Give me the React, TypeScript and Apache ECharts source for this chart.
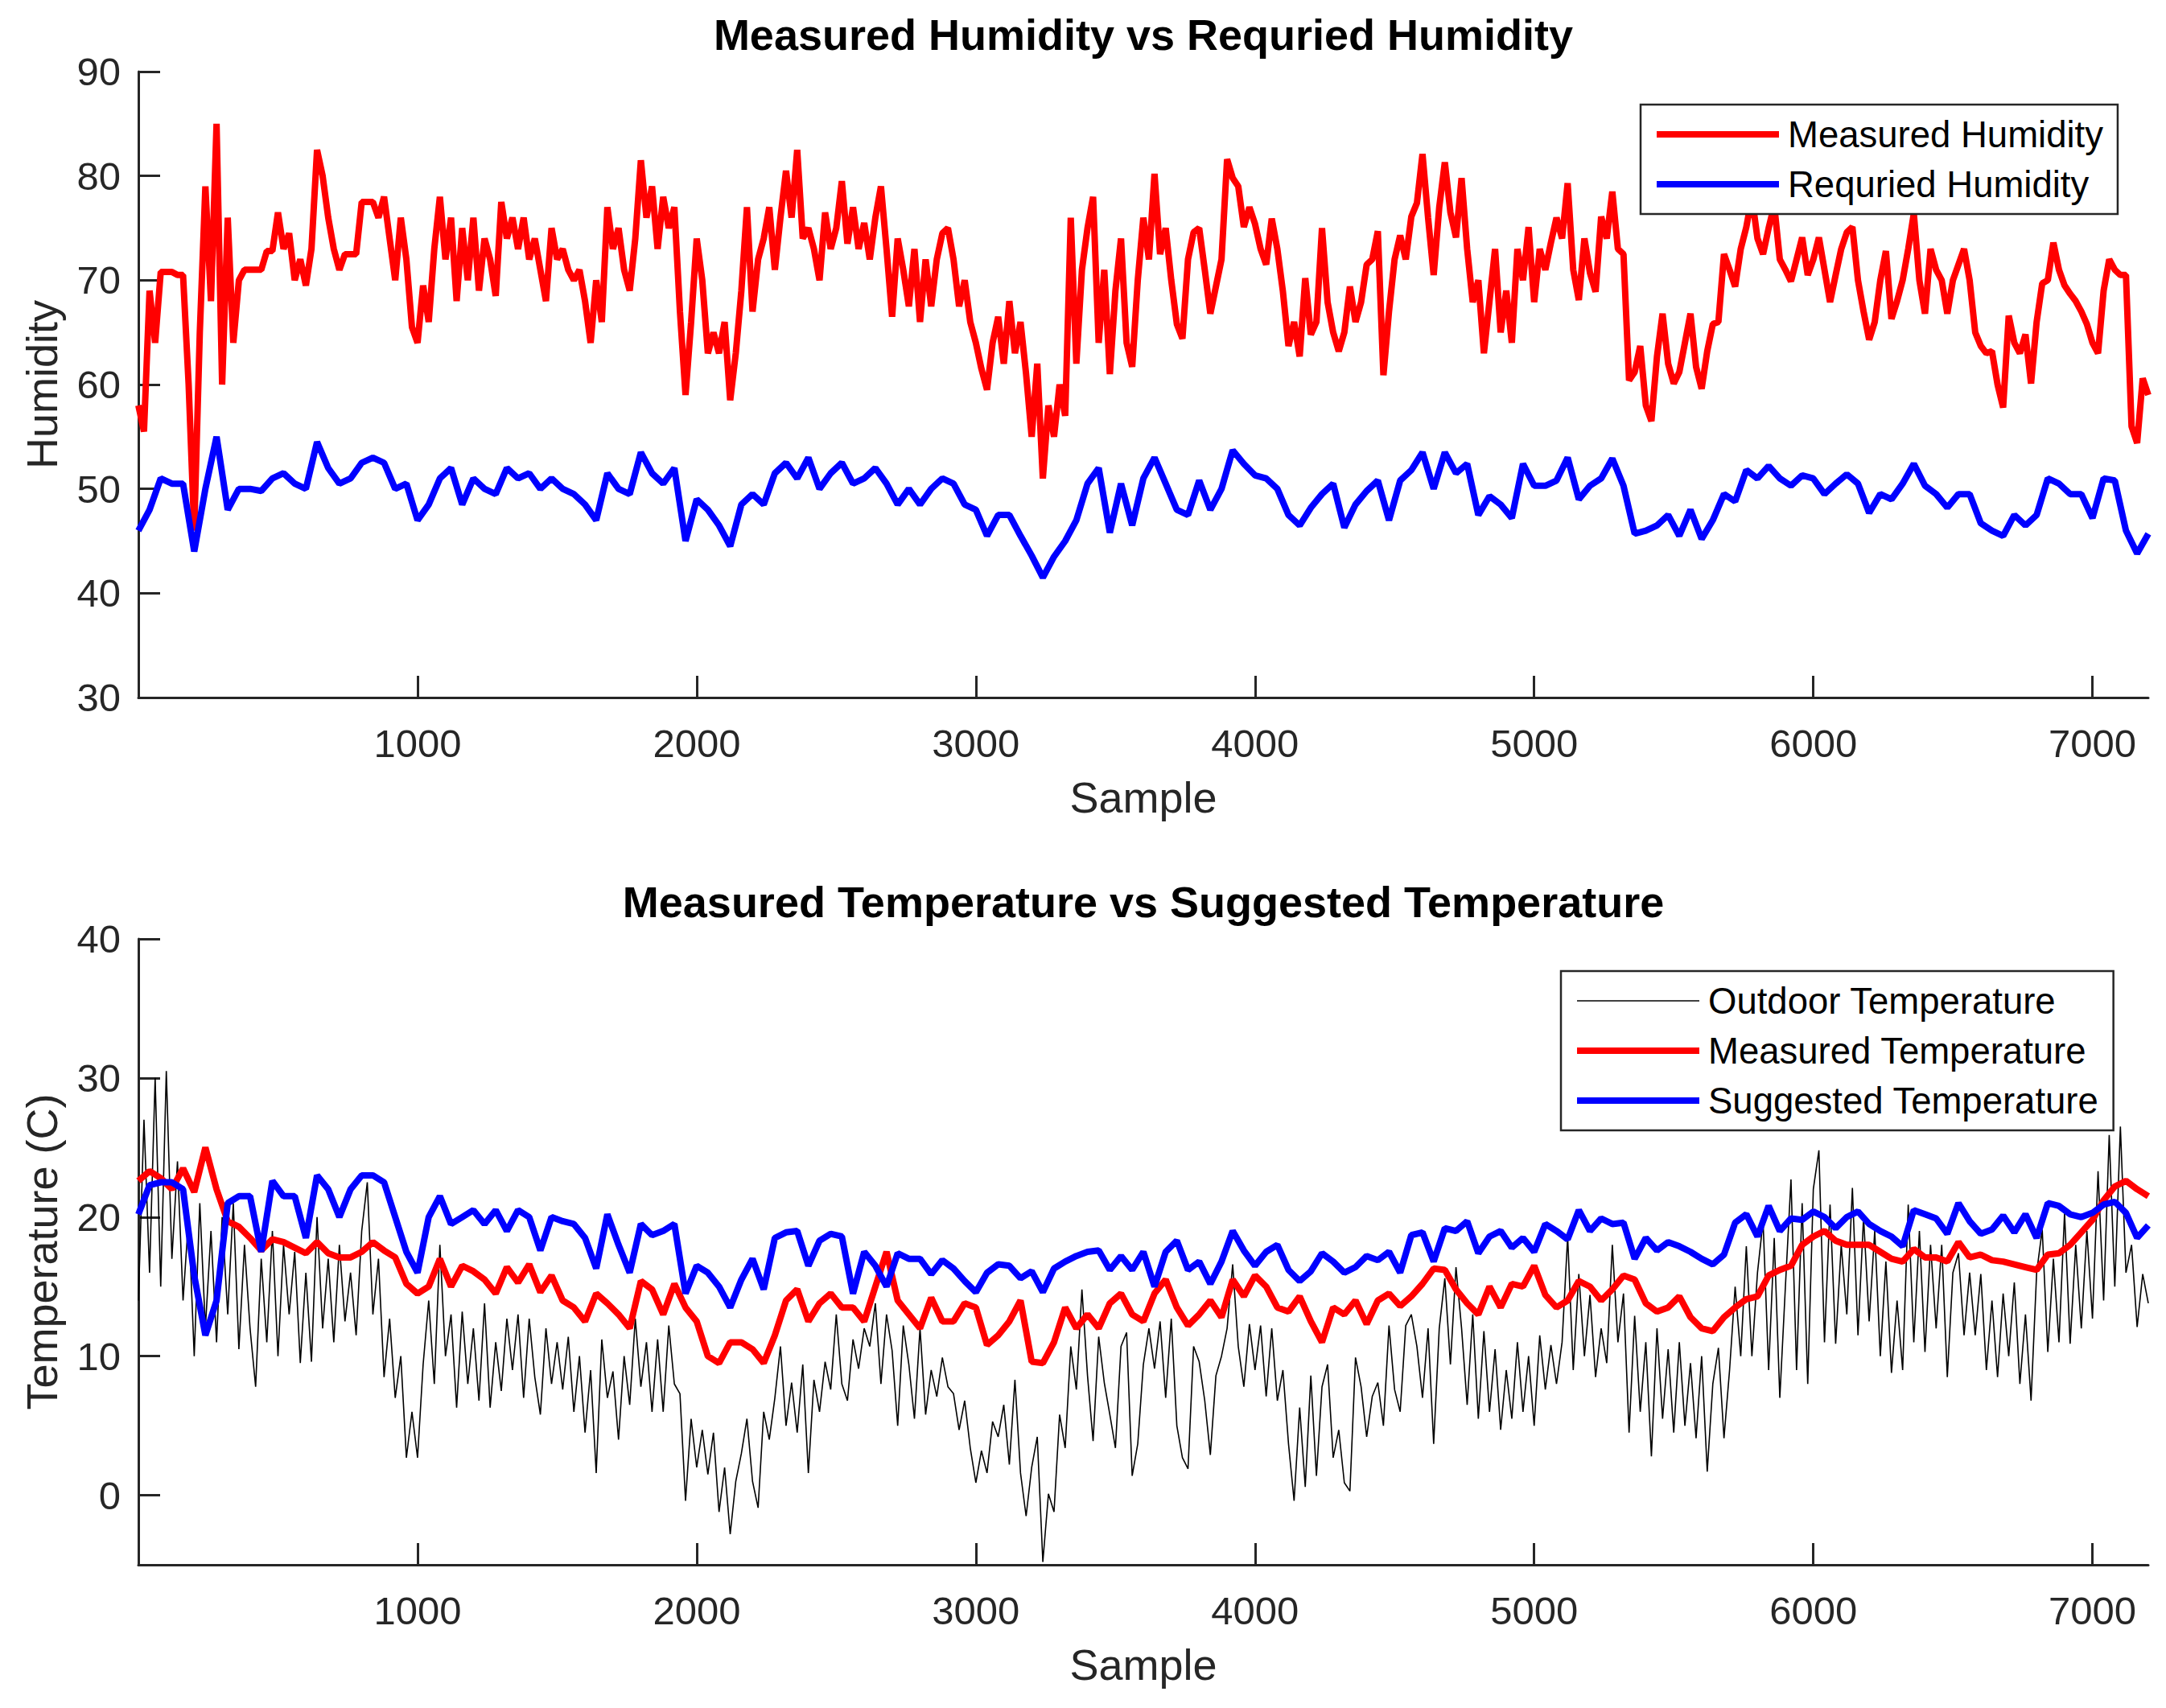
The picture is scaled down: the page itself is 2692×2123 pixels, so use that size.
import React, { useEffect, useRef } from 'react';
import * as echarts from 'echarts';

// sample spacing of the hand-read values below
const MEASURED_HUMIDITY_STEP = 20;
const REQUIRED_HUMIDITY_STEP = 40;
const TEMP_STEP = 40;
const OUTDOOR_STEP = 20;

const measuredHumidity = [
  58, 55.5, 69, 64, 70.8, 70.8, 70.8, 70.5, 70.5, 60, 46, 65, 79, 68, 85, 60, 76, 64, 70, 71,
  71, 71, 71, 72.8, 72.8, 76.5, 73, 74.5, 70, 72, 69.5, 73, 82.5, 80, 76, 73, 71, 72.5, 72.5, 72.5,
  77.5, 77.5, 77.5, 76, 78, 74, 70, 76, 72, 65.5, 64, 69.5, 66, 73, 78, 72, 76, 68, 75, 70,
  76, 69, 74, 72, 68.5, 77.5, 74, 76, 73, 76, 72, 74, 71, 68, 75, 72, 73, 71, 70, 71,
  68, 64, 70, 66, 77, 73, 75, 71, 69, 74, 81.5, 76, 79, 73, 78, 75, 77, 67, 59, 66,
  74, 70, 63, 65, 63, 66, 58.5, 63, 69, 77, 67, 72, 74, 77, 71, 76, 80.5, 76, 82.5, 74,
  75, 73, 70, 76.5, 73, 75, 79.5, 73.5, 77, 73, 75.5, 72, 76, 79, 73, 66.5, 74, 71, 67.5, 73,
  66, 72, 67.5, 72, 74.5, 75, 72, 67.5, 70, 66, 64, 61.5, 59.5, 64, 66.5, 62, 68, 63, 66, 61,
  55, 62, 51, 58, 55, 60, 57, 76, 62, 71, 75, 78, 64, 71, 61, 69, 74, 64, 61.7, 70,
  76, 72, 80.2, 72.5, 75, 70, 65.8, 64.4, 72, 74.6, 75, 71, 66.8, 69.4, 72, 81.6, 79.8, 79, 75.1, 77,
  75.4, 73, 71.5, 75.9, 73, 68.9, 63.7, 66, 62.7, 70.2, 64.8, 66, 75, 67.9, 65, 63.2, 65, 69.4, 66, 67.9,
  71.5, 72, 74.7, 60.9, 67, 72, 74.3, 72, 76.1, 77.4, 82.1, 76, 70.5, 77, 81.3, 76.5, 74.1, 79.8, 73, 67.9,
  70, 63, 68, 73, 65, 69, 64, 73, 70, 75.1, 67.9, 73, 71, 73.6, 76, 74, 79.3, 71, 68.1, 74,
  70.7, 68.9, 76.1, 74, 78.5, 73, 72.5, 60.4, 61.2, 63.7, 58, 56.5, 62.7, 66.8, 62, 60.1, 61.2, 64, 66.8, 61.7,
  59.6, 63.2, 65.8, 66, 72.5, 71, 69.4, 73, 75.1, 78, 74, 72.5, 75, 77.2, 72, 71, 69.9, 72, 74.1, 70.5,
  72, 74.1, 71, 67.9, 70.5, 73, 74.6, 75.1, 70, 67, 64.3, 66, 70, 72.8, 66.3, 68, 70, 73, 76.4, 70,
  66.8, 73, 71, 70, 66.8, 70, 71.5, 73, 70, 65, 63.7, 63, 63.2, 60, 57.8, 66.6, 64, 63, 64.8, 60.1,
  66, 69.7, 70, 73.6, 71, 69.5, 68.7, 68, 67, 65.8, 64, 63, 69, 72, 71, 70.5, 70.5, 56, 54.4, 60.6,
  59,
];

const requiredHumidity = [
  46, 48, 51, 50.5, 50.5, 44, 50, 55, 48, 50,
  50, 49.8, 51, 51.5, 50.5, 50, 54.5, 52, 50.5, 51,
  52.5, 53, 52.5, 50, 50.5, 47, 48.5, 51, 52, 48.5,
  51, 50, 49.5, 52, 51, 51.5, 50, 51, 50, 49.5,
  48.5, 47, 51.5, 50, 49.5, 53.5, 51.5, 50.5, 52, 45,
  49, 48, 46.5, 44.5, 48.5, 49.5, 48.5, 51.5, 52.5, 51,
  53, 50, 51.5, 52.5, 50.5, 51, 52, 50.5, 48.5, 50,
  48.5, 50, 51, 50.5, 48.5, 48, 45.5, 47.5, 47.5, 45.5,
  43.6, 41.5, 43.5, 45, 47, 50.5, 52, 45.8, 50.5, 46.5,
  51, 53, 50.5, 48, 47.5, 50.8, 48, 50, 53.7, 52.4,
  51.3, 51, 50, 47.5, 46.5, 48.2, 49.5, 50.5, 46.3, 48.5,
  49.8, 50.8, 47, 50.8, 51.8, 53.5, 50, 53.5, 51.5, 52.4,
  47.5, 49.3, 48.5, 47.2, 52.4, 50.3, 50.3, 50.8, 53, 49,
  50.3, 51, 52.9, 50.3, 45.7, 46, 46.5, 47.5, 45.5, 48,
  45.2, 47, 49.5, 48.8, 51.8, 51, 52.2, 51, 50.3, 51.3,
  51, 49.5, 50.5, 51.4, 50.5, 47.7, 49.5, 49, 50.5, 52.4,
  50.3, 49.5, 48.2, 49.5, 49.5, 46.7, 46, 45.5, 47.5, 46.5,
  47.5, 51, 50.5, 49.5, 49.5, 47.2, 51, 50.8, 46, 43.8,
  45.7,
];

const measuredTemperature = [
  22.6, 23.3, 22.8, 22, 23.5, 21.8, 25, 22, 19.7, 19.3,
  18.5, 17.6, 18.4, 18.2, 17.8, 17.4, 18.2, 17.4, 17.1, 17.1,
  17.5, 18.2, 17.6, 17.1, 15.2, 14.5, 15, 17, 15, 16.5,
  16.1, 15.5, 14.5, 16.4, 15.3, 16.6, 14.6, 15.8, 14, 13.5,
  12.5, 14.5, 13.8, 13, 12, 15.4, 14.8, 13, 15.2, 13.5,
  12.5, 10, 9.5, 11, 11, 10.5, 9.5, 11.5, 14, 14.8,
  12.5, 13.8, 14.5, 13.5, 13.5, 12.5, 15, 17.5, 14, 13,
  12, 14.2, 12.5, 12.5, 13.8, 13.5, 10.8, 11.5, 12.5, 14,
  9.6, 9.5, 11, 13.5, 12, 13, 12, 13.8, 14.5, 13,
  12.5, 14.5, 15.5, 13.5, 12.2, 13, 14, 12.8, 15.5, 14.3,
  15.8, 15, 13.5, 13.2, 14.3, 12.5, 11, 13.5, 13, 14,
  12.3, 14, 14.5, 13.6, 14.3, 15.2, 16.3, 16.2, 14.8, 13.8,
  13, 15, 13.5, 15.2, 15, 16.5, 14.4, 13.5, 14, 15.4,
  15, 14, 14.8, 15.8, 15.5, 13.8, 13.2, 13.5, 14.3, 12.8,
  12, 11.8, 12.8, 13.5, 14.1, 14.3, 15.8, 16.2, 16.5, 18,
  18.6, 19, 18.3, 18, 18, 18, 17.5, 17, 16.8, 17.7,
  17.1, 17.1, 16.8, 18.2, 17.1, 17.3, 16.9, 16.8, 16.6, 16.4,
  16.2, 17.3, 17.4, 18, 18.9, 19.8, 21.2, 22.2, 22.6, 22,
  21.5,
];

const suggestedTemperature = [
  20.2, 22.3, 22.5, 22.5, 22, 15.8, 11.5, 14, 21, 21.5,
  21.5, 17.5, 22.6, 21.5, 21.5, 18.5, 23, 22, 20, 22,
  23, 23, 22.5, 20, 17.5, 16, 20, 21.5, 19.5, 20,
  20.5, 19.5, 20.5, 19, 20.5, 20, 17.6, 20, 19.7, 19.5,
  18.5, 16.3, 20.2, 18, 16, 19.5, 18.7, 19, 19.5, 14.5,
  16.5, 16, 15, 13.5, 15.5, 17, 14.8, 18.5, 18.9, 19,
  16.5, 18.3, 18.8, 18.6, 14.5, 17.5, 16.5, 15, 17.4, 17,
  17, 15.9, 16.9, 16.3, 15.4, 14.6, 16, 16.6, 16.5, 15.6,
  16.1, 14.6, 16.3, 16.8, 17.2, 17.5, 17.6, 16.2, 17.2, 16.2,
  17.5, 15, 17.5, 18.3, 16.2, 16.8, 15.2, 16.8, 19, 17.6,
  16.5, 17.5, 18, 16.2, 15.4, 16.1, 17.4, 16.8, 16, 16.4,
  17.2, 16.9, 17.5, 16, 18.7, 18.9, 16.8, 19.2, 19, 19.7,
  17.4, 18.6, 19, 17.8, 18.5, 17.5, 19.5, 19, 18.4, 20.5,
  19, 19.9, 19.5, 19.6, 17, 18.5, 17.6, 18.2, 17.9, 17.5,
  17, 16.6, 17.3, 19.6, 20.2, 18.6, 20.8, 19, 19.9, 19.8,
  20.4, 20, 19.2, 20, 20.4, 19.5, 19, 18.6, 17.9, 20.5,
  20.2, 19.9, 18.8, 21, 19.7, 18.8, 19.1, 20.1, 18.9, 20.2,
  18.5, 21, 20.8, 20.2, 20, 20.3, 20.9, 21.1, 20.3, 18.5,
  19.4,
];

const outdoorTemperature = [
  14, 27, 16, 30, 15, 30.5, 17, 24, 14, 20,
  10, 21, 12, 19, 11, 20, 13, 21, 10.5, 18,
  12, 7.8, 17, 11, 19, 10, 18, 13, 17.5, 9.5,
  16, 9.6, 20, 12, 17, 11, 18, 12.5, 16, 11.5,
  19, 22.5, 13, 17, 8.5, 12.7, 7, 10, 2.7, 6,
  2.7, 9.4, 14, 8, 18, 10, 13, 6.3, 13.2, 8,
  12, 6.8, 13.8, 6.3, 11, 7.5, 12.7, 9, 13, 7,
  12.7, 8.5, 5.8, 12, 8, 11, 7.6, 11.4, 6, 10,
  4.5, 9, 1.6, 11.2, 7, 8.9, 4, 10, 6.5, 12.7,
  7.8, 11, 6, 11.2, 6, 12.2, 8, 7.3, -0.4, 5.5,
  2, 4.7, 1.5, 4.5, -1.2, 2, -2.8, 1, 3, 5.5,
  1, -0.9, 6, 4, 7, 10.7, 5, 8.1, 4.5, 9.4,
  1.6, 8.3, 6, 9.6, 7.6, 13, 8, 6.8, 11.2, 9.1,
  12, 10.7, 13.8, 8, 13, 10.4, 5, 12.2, 9.4, 5.5,
  12, 5.8, 9, 7.1, 9.9, 7.8, 7.3, 4.7, 6.8, 3.4,
  0.9, 3.2, 1.6, 5.3, 4.2, 6.5, 2.2, 8.3, 1.6, -1.5,
  2, 4.2, -4.8, 0.1, -1.2, 5.8, 3.4, 10.7, 7.6, 14.8,
  8.6, 3.9, 11.4, 8.1, 5.8, 3.4, 10.7, 11.7, 1.4, 3.7,
  9.4, 12, 9.1, 12.5, 7, 12.7, 5, 2.7, 1.9, 10.7,
  9.6, 6.8, 2.9, 8.6, 10, 12, 16.6, 10.7, 7.8, 12.3,
  9, 12.2, 7.1, 12, 6.8, 9, 3.7, -0.4, 6.3, 0.6,
  8.6, 1.4, 7.8, 9.4, 2.7, 4.7, 0.9, 0.3, 9.9, 7.8,
  4.2, 7.1, 8.1, 5, 12.2, 7.6, 6, 12.2, 13, 10.7,
  7, 12, 3.7, 12, 15.6, 9.4, 16.4, 12, 6.5, 13,
  5.5, 11.8, 6, 10.5, 4.7, 9, 5.5, 11, 6, 10,
  5, 11.5, 7.6, 10.8, 8, 11, 18.6, 9, 15.9, 10,
  14.4, 8.5, 12, 9.5, 18, 11, 14.5, 4.5, 12.9, 6,
  11, 2.8, 12, 5.5, 10.5, 4.5, 11, 5, 9.5, 4.1,
  10, 1.7, 8, 10.6, 4.1, 9, 15, 10, 17.9, 10,
  16, 19.7, 9, 18.5, 7, 15, 22.7, 9, 21, 8,
  22, 24.8, 11, 20.9, 10.9, 18, 13, 22.1, 11.5, 20,
  12.5, 19, 10, 16.8, 8.8, 14, 9, 20.9, 11, 19,
  10.3, 18, 12, 18, 8.5, 16, 17.4, 11.5, 16, 11.5,
  15.9, 9, 14, 8.5, 14.5, 10, 15.3, 8, 13, 6.8,
  16, 19.1, 10.3, 17, 11, 20.3, 10.9, 18, 12, 19,
  12.7, 23.3, 14, 25.9, 15, 26.5, 16, 18, 12.1, 15.9,
  13.8,
];

const sampleTicks = [1000, 2000, 3000, 4000, 5000, 6000, 7000];
const temperatureTicks = [0, 10, 20, 30, 40];

const FONT = '"Liberation Sans", Arial, Helvetica, sans-serif';
const AXIS_COLOR = '#262626';

function toPoints(values: number[], step: number) {
  return values.map((v, i) => [i * step, v]);
}

function sampleAxis(gridIndex: number) {
  return {
    type: 'value',
    gridIndex,
    min: 0,
    max: 7200,
    interval: 1000,
    name: 'Sample',
    nameLocation: 'middle',
    nameGap: 97,
    nameTextStyle: { fontSize: 54, color: AXIS_COLOR, fontFamily: FONT },
    axisLine: { onZero: false, lineStyle: { color: AXIS_COLOR, width: 3 } },
    axisTick: { inside: true, length: 27, customValues: sampleTicks, lineStyle: { color: AXIS_COLOR, width: 3 } },
    axisLabel: {
      margin: 32,
      fontSize: 49,
      color: AXIS_COLOR,
      fontFamily: FONT,
      customValues: sampleTicks,
      formatter: (v: number) => String(v),
    },
    splitLine: { show: false },
  };
}

function valueAxisStyle() {
  return {
    nameLocation: 'middle',
    nameGap: 93,
    nameRotate: 90,
    nameTextStyle: { fontSize: 54, color: AXIS_COLOR, fontFamily: FONT },
    axisLine: { show: true, onZero: false, lineStyle: { color: AXIS_COLOR, width: 3 } },
    splitLine: { show: false },
  };
}

function App() {
  const chartRef = useRef<HTMLDivElement>(null);

  useEffect(() => {
    if (!chartRef.current) return undefined;
    const chart = echarts.init(chartRef.current, undefined, { renderer: 'svg' });
    const legendBase = {
      orient: 'vertical',
      itemWidth: 152,
      itemHeight: 20,
      itemGap: 12,
      padding: [12, 18, 12, 16],
      borderColor: AXIS_COLOR,
      borderWidth: 2.5,
      backgroundColor: '#fff',
      itemStyle: { opacity: 0 },
      lineStyle: { width: 'inherit' },
      textStyle: { fontSize: 45.5, lineHeight: 50, color: '#000', fontFamily: FONT, padding: [0, 0, 0, 6] },
    };
    const options = {
      animation: false,
      backgroundColor: '#fff',
      title: [
        {
          text: 'Measured Humidity vs Requried Humidity',
          left: 1421,
          top: 16,
          padding: 0,
          textAlign: 'center',
          textStyle: { fontSize: 54, fontWeight: 'bold', color: '#000', fontFamily: FONT },
        },
        {
          text: 'Measured Temperature vs Suggested Temperature',
          left: 1421,
          top: 1094,
          padding: 0,
          textAlign: 'center',
          textStyle: { fontSize: 54, fontWeight: 'bold', color: '#000', fontFamily: FONT },
        },
      ],
      legend: [
        { ...legendBase, left: 2039, top: 130, data: ['Measured Humidity', 'Requried Humidity'] },
        {
          ...legendBase,
          left: 1940,
          top: 1207,
          data: ['Outdoor Temperature', 'Measured Temperature', 'Suggested Temperature'],
        },
      ],
      grid: [
        { left: 172, right: 22, top: 89, height: 778 },
        { left: 172, right: 22, top: 1167, height: 778 },
      ],
      xAxis: [sampleAxis(0), sampleAxis(1)],
      yAxis: [
        {
          type: 'value',
          gridIndex: 0,
          min: 30,
          max: 90,
          interval: 10,
          name: 'Humidity',
          ...valueAxisStyle(),
          axisTick: { inside: true, length: 27, lineStyle: { color: AXIS_COLOR, width: 3 } },
          axisLabel: { margin: 22, fontSize: 49, color: AXIS_COLOR, fontFamily: FONT },
        },
        {
          type: 'value',
          gridIndex: 1,
          min: -5,
          max: 40,
          interval: 5,
          name: 'Temperature (C)',
          ...valueAxisStyle(),
          axisTick: {
            inside: true,
            length: 27,
            customValues: temperatureTicks,
            lineStyle: { color: AXIS_COLOR, width: 3 },
          },
          axisLabel: { margin: 22, fontSize: 49, color: AXIS_COLOR, fontFamily: FONT, customValues: temperatureTicks },
        },
      ],
      series: [
        {
          name: 'Measured Humidity',
          type: 'line',
          xAxisIndex: 0,
          yAxisIndex: 0,
          symbol: 'none',
          data: toPoints(measuredHumidity, MEASURED_HUMIDITY_STEP),
          lineStyle: { color: '#ff0000', width: 8 },
          itemStyle: { color: '#ff0000' },
        },
        {
          name: 'Requried Humidity',
          type: 'line',
          xAxisIndex: 0,
          yAxisIndex: 0,
          symbol: 'none',
          data: toPoints(requiredHumidity, REQUIRED_HUMIDITY_STEP),
          lineStyle: { color: '#0000ff', width: 8 },
          itemStyle: { color: '#0000ff' },
        },
        {
          name: 'Outdoor Temperature',
          type: 'line',
          xAxisIndex: 1,
          yAxisIndex: 1,
          symbol: 'none',
          data: toPoints(outdoorTemperature, OUTDOOR_STEP),
          lineStyle: { color: '#000000', width: 1.6 },
          itemStyle: { color: '#000000' },
        },
        {
          name: 'Measured Temperature',
          type: 'line',
          xAxisIndex: 1,
          yAxisIndex: 1,
          symbol: 'none',
          data: toPoints(measuredTemperature, TEMP_STEP),
          lineStyle: { color: '#ff0000', width: 8 },
          itemStyle: { color: '#ff0000' },
        },
        {
          name: 'Suggested Temperature',
          type: 'line',
          xAxisIndex: 1,
          yAxisIndex: 1,
          symbol: 'none',
          data: toPoints(suggestedTemperature, TEMP_STEP),
          lineStyle: { color: '#0000ff', width: 8 },
          itemStyle: { color: '#0000ff' },
        },
      ],
    };
    chart.setOption(options as any);
    return () => {
      chart.dispose();
    };
  }, []);

  return (
    <div
      ref={chartRef}
      style={{ position: 'absolute', left: 0, top: 0, width: '2692px', height: '2123px' }}
    />
  );
}

export default App;
